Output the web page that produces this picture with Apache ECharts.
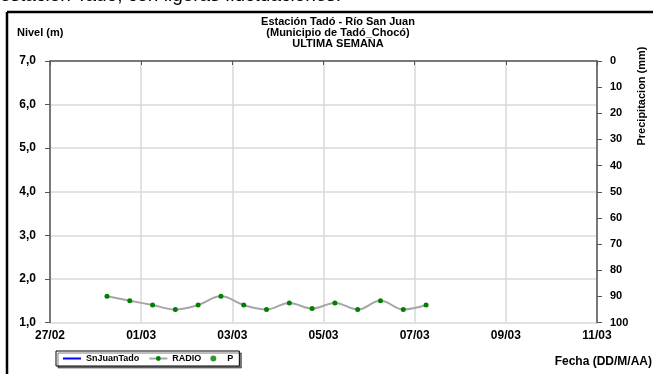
<!DOCTYPE html>
<html>
<head>
    <meta charset="utf-8">
    <title>Estación Tadó</title>
    <script src="https://cdn.jsdelivr.net/npm/echarts@6/dist/echarts.min.js"></script>
    <style>
        html, body {margin:0;padding:0;background:#fff;}
        #chart {width:653px;height:374px;}
    </style>
</head>
<body>
<div id="chart"></div>
<script>
    // datos de nivel (estacion RADIO), cada 12 horas
    var fechas = ['2014-02-28T06:00', '2014-02-28T18:00', '2014-03-01T06:00', '2014-03-01T18:00',
        '2014-03-02T06:00', '2014-03-02T18:00', '2014-03-03T06:00', '2014-03-03T18:00',
        '2014-03-04T06:00', '2014-03-04T18:00', '2014-03-05T06:00', '2014-03-05T18:00',
        '2014-03-06T06:00', '2014-03-06T18:00', '2014-03-07T06:00'];
    var nivelRadio = [1.6, 1.5, 1.4, 1.3, 1.4, 1.6, 1.4, 1.3, 1.45, 1.32, 1.45, 1.3, 1.5, 1.3, 1.4];
    var nivelSnJuan = [];
    var precipitacion = [];
    var fechaMin = '2014-02-27T00:00';
    var fechaMax = '2014-03-11T00:00';
    var nivelTicks = [1, 7, 1];      // min, max, paso
    var precTicks = [0, 100, 10];

    var DIA = 86400000;
    function ms(s) { return new Date(s + 'Z').getTime(); }
    function pad(n) { return (n < 10 ? '0' : '') + n; }

    var radioData = fechas.map(function (f, i) { return [ms(f), nivelRadio[i]]; });

    var fuente = 'Liberation Sans, Arial';
    var txt = {color: '#000', fontFamily: fuente, fontWeight: 'bold'};

    var chart = echarts.init(document.getElementById('chart'));
    var option = {
        animation: false,
        grid: {left: 50, right: 56, top: 61, bottom: 51.5},
        graphic: [
            {type: 'text', left: 0, top: -14, style: {text: 'estación Tadó, con ligeras fluctuaciones.', fontSize: 19, fontFamily: fuente, fill: '#000'}},
            {type: 'line', shape: {x1: 7, y1: 12, x2: 653, y2: 12}, style: {stroke: '#000', lineWidth: 2.5}},
            {type: 'line', shape: {x1: 7, y1: 12, x2: 7, y2: 374}, style: {stroke: '#000', lineWidth: 2.5}},
            {type: 'text', x: 338, y: 16, style: {text: 'Estación Tadó - Río San Juan\n(Municipio de Tadó_Chocó)\nULTIMA SEMANA', align: 'center', lineHeight: 11, fontSize: 11, fontWeight: 'bold', fontFamily: fuente, fill: '#000'}},
            {type: 'text', x: 17, y: 27, style: {text: 'Nivel (m)', fontSize: 11, fontWeight: 'bold', fontFamily: fuente, fill: '#000'}},
            {type: 'text', x: 652, y: 356, style: {text: 'Fecha (DD/M/AA)', align: 'right', fontSize: 12, fontWeight: 'bold', fontFamily: fuente, fill: '#000'}},
            {type: 'text', x: 636, y: 96, rotation: Math.PI / 2, style: {text: 'Precipitacion (mm)', align: 'center', verticalAlign: 'top', fontSize: 11, fontWeight: 'bold', fontFamily: fuente, fill: '#000'}}
        ],
        legend: {
            left: 56, top: 351,
            padding: [3, 6], itemGap: 9, itemWidth: 18, itemHeight: 6,
            borderColor: '#000', borderWidth: 1,
            shadowColor: 'rgba(0,0,0,0.5)', shadowOffsetX: 2, shadowOffsetY: 2, shadowBlur: 0,
            backgroundColor: '#fff',
            textStyle: {color: '#000', fontFamily: fuente, fontWeight: 'bold', fontSize: 9},
            data: [
                {name: 'SnJuanTado', itemStyle: {color: 'rgba(0,0,0,0)', borderWidth: 0}},
                'RADIO',
                'P'
            ]
        },
        xAxis: {
            type: 'value',
            min: ms(fechaMin), max: ms(fechaMax), interval: 2 * DIA,
            axisLine: {lineStyle: {color: '#555', width: 1.5}},
            axisTick: {length: 4, lineStyle: {color: '#555'}},
            splitLine: {show: true, lineStyle: {color: '#d9d9d9', width: 1.5}},
            axisLabel: Object.assign({fontSize: 12, margin: 7, formatter: function (v) {
                var d = new Date(v);
                return pad(d.getUTCDate()) + '/' + pad(d.getUTCMonth() + 1);
            }}, txt)
        },
        yAxis: [
            {
                type: 'value', min: nivelTicks[0], max: nivelTicks[1], interval: nivelTicks[2],
                axisLine: {show: true, lineStyle: {color: '#555', width: 1.5}},
                axisTick: {show: true, length: 5, lineStyle: {color: '#555'}},
                splitLine: {lineStyle: {color: '#d9d9d9', width: 1.5}},
                axisLabel: Object.assign({fontSize: 12, margin: 14, formatter: function (v) {
                    return v.toFixed(1).replace('.', ',');
                }}, txt)
            },
            {
                type: 'value', position: 'right', inverse: true,
                min: precTicks[0], max: precTicks[1], interval: precTicks[2],
                axisLine: {show: true, lineStyle: {color: '#555', width: 1.5}},
                axisTick: {show: true, length: 5, lineStyle: {color: '#555'}},
                splitLine: {show: false},
                axisLabel: Object.assign({fontSize: 11, margin: 13}, txt)
            }
        ],
        series: [
            {
                name: 'SnJuanTado', type: 'line', data: nivelSnJuan, symbol: 'none',
                itemStyle: {color: '#0000ff'}, lineStyle: {color: '#0000ff', width: 2}
            },
            {
                name: 'RADIO', type: 'line', data: radioData, smooth: 0.4,
                symbol: 'circle', symbolSize: 5,
                itemStyle: {color: '#008000'},
                lineStyle: {color: '#a6a6a6', width: 2}
            },
            {
                name: 'P', type: 'scatter', yAxisIndex: 1, data: precipitacion,
                symbol: 'circle', symbolSize: 4, itemStyle: {color: '#008000'}
            }
        ]
    };
    chart.setOption(option);
</script>
</body>
</html>
